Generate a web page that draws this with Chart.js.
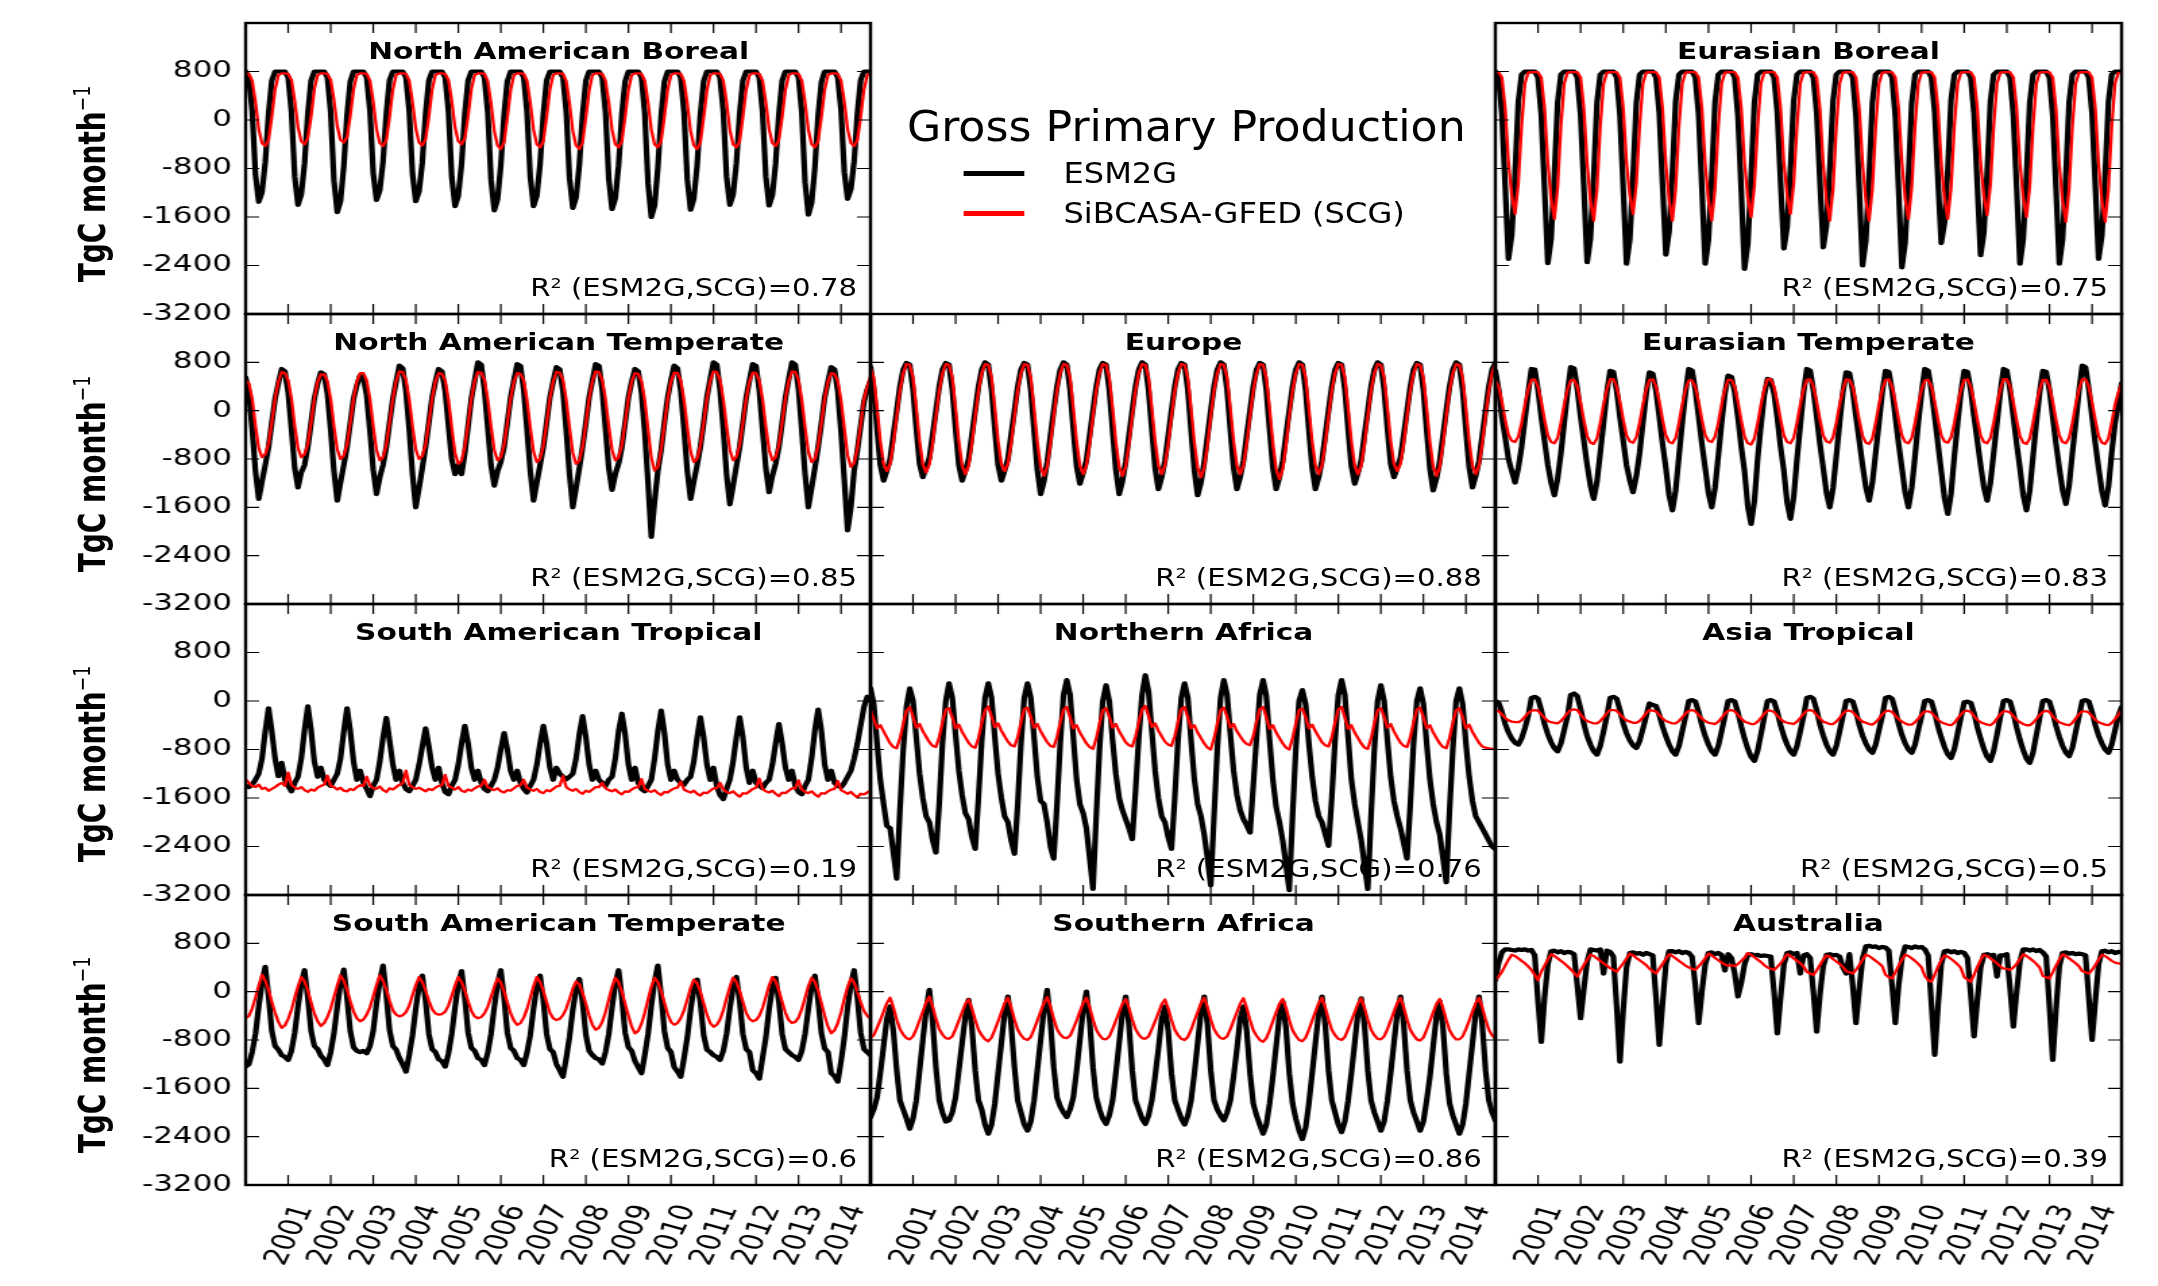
<!DOCTYPE html>
<html>
<head>
<meta charset="utf-8">
<script src="https://cdn.jsdelivr.net/npm/chart.js@4/dist/chart.umd.min.js"></script>
<style>
html,body{margin:0;padding:0;background:#fff;overflow:hidden;width:2158px;height:1286px;}
#stage{position:absolute;left:0;top:0;width:1599px;height:1286px;transform-origin:0 0;font-family:'DejaVu Sans',sans-serif;color:#000;}
.txt{position:absolute;white-space:nowrap;line-height:1;z-index:1;}
.sup{font-size:0.6em;vertical-align:0.6em;}
.supy{font-size:0.62em;vertical-align:0.65em;font-weight:normal;}
</style>
</head>
<body>
<div id="stage"></div>
<script>
// ---------- tick labels / categories ----------
const yearTickPos = [13,26,39,52,65,78,91,104,117,130,143,156,169,182];
const yearLabels = ['2001','2002','2003','2004','2005','2006','2007','2008','2009','2010','2011','2012','2013','2014'];
const yTickValues = [-3200,-2400,-1600,-800,0,800];
const regionNames = ['North American Boreal','Eurasian Boreal','North American Temperate','Europe','Eurasian Temperate','South American Tropical','Northern Africa','Asia Tropical','South American Temperate','Southern Africa','Australia'];
const r2Values = ['0.78','0.75','0.85','0.88','0.83','0.19','0.76','0.5','0.6','0.86','0.39'];
const seriesNames = ['ESM2G','SiBCASA-GFED (SCG)'];

// ---------- monthly values, TgC month-1 (192 months each) ----------
const nabESM = [
800,700,150,-900,-1350,-1190,-700,100,650,800,800,800,
800,700,140,-930,-1400,-1230,-720,100,650,800,800,800,
800,700,120,-1000,-1520,-1340,-760,80,640,800,800,800,
800,700,160,-880,-1320,-1160,-690,110,660,800,800,800,
800,700,150,-890,-1340,-1180,-700,100,650,800,800,800,
800,700,140,-940,-1420,-1250,-730,100,650,800,800,800,
800,700,130,-980,-1490,-1310,-750,90,640,800,800,800,
800,700,140,-940,-1420,-1250,-730,100,650,800,800,800,
800,700,140,-960,-1450,-1280,-740,90,650,800,800,800,
800,700,130,-970,-1470,-1290,-750,90,640,800,800,800,
800,700,110,-1050,-1600,-1410,-790,70,630,800,800,800,
800,700,130,-980,-1480,-1300,-750,90,640,800,800,800,
800,700,140,-930,-1400,-1230,-720,100,650,800,800,800,
800,700,140,-930,-1410,-1240,-720,100,650,800,800,800,
800,700,120,-1030,-1560,-1370,-780,80,630,800,800,800,
800,700,160,-860,-1300,-1140,-680,110,660,800,800,800];
const nabSCG = [
770,760,650,300,-150,-380,-430,-330,50,500,740,770,
770,760,660,320,-120,-350,-400,-300,60,510,740,770,
770,760,660,330,-100,-330,-370,-280,70,510,740,770,
770,760,650,300,-150,-380,-430,-330,50,500,740,770,
770,760,650,300,-140,-370,-420,-320,50,500,740,770,
770,760,660,320,-120,-350,-400,-300,60,510,740,770,
770,760,640,280,-180,-420,-480,-370,40,490,740,770,
770,760,650,290,-160,-400,-450,-350,50,500,740,770,
770,760,640,280,-180,-420,-480,-370,40,490,740,770,
770,760,650,290,-160,-400,-450,-350,50,500,740,770,
770,760,650,290,-160,-400,-450,-350,50,500,740,770,
770,760,640,280,-180,-420,-480,-370,40,490,740,770,
770,760,650,290,-160,-400,-450,-350,50,500,740,770,
770,760,650,300,-150,-380,-430,-330,50,500,740,770,
770,760,650,290,-160,-400,-450,-350,50,500,740,770,
770,760,650,300,-150,-380,-430,-330,50,500,740,770];
const ebESM = [
800,700,100,-1100,-2290,-1900,-900,300,750,800,800,800,
800,700,80,-1130,-2360,-1960,-920,290,750,800,800,800,
800,700,80,-1120,-2345,-1950,-920,290,750,800,800,800,
800,700,80,-1130,-2370,-1970,-930,290,750,800,800,800,
800,700,110,-1070,-2220,-1840,-870,310,750,800,800,800,
800,700,80,-1130,-2370,-1970,-930,290,750,800,800,800,
800,700,60,-1170,-2455,-2040,-960,280,750,800,800,800,
800,700,120,-1020,-2120,-1760,-830,320,750,800,800,800,
800,700,120,-1010,-2100,-1740,-820,320,750,800,800,800,
800,700,70,-1150,-2400,-1990,-940,290,750,800,800,800,
800,700,60,-1160,-2430,-2020,-950,280,750,800,800,800,
800,700,130,-980,-2030,-1690,-800,330,750,800,800,800,
800,700,100,-1070,-2230,-1850,-870,310,750,800,800,800,
800,700,80,-1130,-2370,-1970,-930,290,750,800,800,800,
800,700,80,-1130,-2370,-1970,-930,290,750,800,800,800,
800,700,100,-1100,-2290,-1900,-900,300,750,800,800,800];
const ebSCG = [
790,790,700,200,-700,-1240,-1550,-1050,-100,600,780,790,
790,790,700,200,-700,-1300,-1630,-1110,-100,600,780,790,
790,790,700,190,-720,-1330,-1660,-1130,-110,600,780,790,
790,790,700,200,-700,-1240,-1550,-1050,-100,600,780,790,
790,790,700,190,-720,-1330,-1660,-1130,-110,600,780,790,
790,790,700,190,-720,-1330,-1660,-1130,-110,600,780,790,
790,790,700,200,-710,-1280,-1600,-1090,-100,600,780,790,
790,790,700,200,-700,-1240,-1550,-1050,-100,600,780,790,
790,790,700,190,-720,-1330,-1660,-1130,-110,600,780,790,
790,790,700,190,-720,-1330,-1660,-1130,-110,600,780,790,
790,790,700,200,-700,-1300,-1630,-1110,-100,600,780,790,
790,790,700,200,-700,-1300,-1630,-1110,-100,600,780,790,
790,790,700,200,-700,-1260,-1570,-1070,-100,600,780,790,
790,790,700,200,-710,-1280,-1600,-1090,-100,600,780,790,
790,790,700,190,-730,-1340,-1680,-1140,-110,600,780,790,
790,790,700,190,-730,-1340,-1680,-1140,-110,600,780,790];
const natESM = [
550,300,-300,-1000,-1460,-1170,-900,-600,-200,200,450,690,
650,300,-300,-950,-1270,-1020,-900,-600,-200,200,450,635,
600,280,-320,-1000,-1490,-1190,-900,-600,-200,200,420,580,
540,250,-330,-980,-1380,-1100,-900,-600,-200,200,480,745,
700,320,-300,-1050,-1600,-1280,-950,-600,-200,220,480,690,
650,320,-250,-800,-1050,-900,-1050,-700,-250,200,500,800,
760,350,-280,-900,-1240,-1000,-850,-600,-200,220,500,770,
740,340,-300,-1000,-1490,-1190,-900,-600,-200,220,480,720,
680,320,-320,-1050,-1600,-1280,-950,-600,-200,220,500,770,
740,340,-300,-950,-1310,-1050,-880,-600,-200,220,480,690,
650,300,-350,-1200,-2090,-1500,-1000,-650,-200,220,500,745,
700,330,-300,-1000,-1460,-1170,-900,-600,-200,220,520,800,
760,350,-300,-1050,-1550,-1240,-920,-600,-200,220,500,770,
740,340,-300,-950,-1350,-1080,-880,-600,-200,220,520,800,
760,350,-320,-1050,-1600,-1280,-950,-600,-200,220,480,720,
680,320,-350,-1150,-1980,-1600,-1000,-650,-250,150,350,500];
const natSCG = [
500,450,200,-250,-620,-770,-720,-550,-200,200,480,640,
620,500,200,-250,-620,-770,-720,-550,-200,200,480,600,
600,490,190,-260,-640,-800,-750,-560,-200,200,480,620,
620,500,190,-260,-650,-820,-770,-570,-200,200,490,650,
640,510,190,-260,-640,-800,-750,-560,-200,200,480,620,
610,500,180,-280,-700,-880,-830,-600,-220,200,490,640,
630,510,190,-260,-650,-820,-770,-570,-200,200,480,620,
610,500,180,-270,-680,-850,-800,-580,-210,200,480,640,
630,510,180,-280,-700,-880,-830,-600,-220,200,490,650,
640,510,190,-260,-650,-820,-770,-570,-200,200,480,620,
610,490,170,-300,-780,-990,-930,-650,-240,190,480,630,
620,500,180,-270,-680,-850,-800,-580,-210,200,490,650,
640,510,190,-260,-650,-820,-770,-570,-200,200,480,630,
620,500,190,-260,-650,-820,-770,-570,-200,200,490,650,
640,510,180,-270,-680,-850,-800,-580,-210,200,480,620,
610,490,170,-290,-740,-930,-870,-620,-230,190,400,560];
const euESM = [
720,350,-300,-900,-1160,-990,-800,-400,0,400,680,790,
760,350,-300,-880,-1100,-940,-780,-400,0,400,680,790,
760,350,-300,-900,-1160,-990,-800,-400,0,400,680,800,
760,350,-300,-900,-1160,-990,-800,-400,0,400,680,790,
760,340,-330,-980,-1380,-1170,-850,-420,0,400,680,800,
760,350,-310,-920,-1210,-1030,-820,-400,0,400,680,790,
760,340,-330,-980,-1380,-1170,-850,-420,0,400,680,800,
760,340,-320,-950,-1300,-1100,-830,-410,0,400,680,790,
760,340,-330,-990,-1400,-1190,-860,-420,0,400,680,800,
760,340,-320,-950,-1300,-1100,-830,-410,0,400,680,790,
760,340,-320,-950,-1300,-1100,-830,-410,0,400,680,800,
760,340,-320,-950,-1300,-1100,-830,-410,0,400,680,790,
760,350,-310,-920,-1210,-1030,-820,-400,0,400,680,800,
760,350,-300,-880,-1100,-940,-780,-400,0,400,680,790,
760,340,-320,-960,-1320,-1120,-840,-410,0,400,680,800,
760,340,-320,-940,-1270,-1080,-830,-410,0,400,680,790];
const euSCG = [
700,550,50,-500,-880,-1000,-880,-540,-100,330,620,770,
760,550,50,-500,-890,-1020,-890,-540,-100,330,620,770,
760,550,40,-510,-910,-1050,-910,-550,-100,330,620,770,
760,550,50,-500,-880,-1000,-880,-540,-100,330,620,770,
760,540,40,-520,-930,-1080,-930,-560,-100,330,620,770,
760,550,40,-510,-910,-1050,-910,-550,-100,330,620,770,
760,540,40,-520,-930,-1080,-930,-560,-100,330,620,770,
760,550,40,-510,-910,-1050,-910,-550,-100,330,620,770,
760,540,30,-530,-950,-1100,-950,-570,-100,330,620,770,
760,550,40,-510,-910,-1050,-910,-550,-100,330,620,770,
760,540,30,-540,-970,-1130,-970,-580,-100,330,620,770,
760,550,40,-510,-910,-1050,-910,-550,-100,330,620,770,
760,550,40,-510,-910,-1050,-910,-550,-100,330,620,770,
760,550,50,-500,-880,-1000,-880,-540,-100,330,620,770,
760,540,40,-520,-930,-1080,-930,-560,-100,330,620,770,
760,550,40,-510,-910,-1050,-910,-550,-100,330,620,770];
const eatESM = [
660,350,-100,-450,-800,-1000,-1190,-950,-600,-150,300,690,
680,350,-100,-500,-900,-1190,-1400,-1120,-700,-200,300,720,
700,360,-100,-500,-900,-1240,-1460,-1170,-700,-200,300,660,
640,330,-100,-500,-900,-1150,-1350,-1080,-700,-200,280,635,
610,320,-100,-550,-950,-1400,-1650,-1320,-750,-200,300,690,
660,340,-100,-550,-950,-1360,-1600,-1280,-750,-200,280,580,
560,300,-120,-600,-1000,-1590,-1875,-1500,-800,-250,250,525,
510,280,-120,-600,-1000,-1520,-1790,-1430,-800,-250,300,690,
660,340,-100,-550,-950,-1360,-1600,-1280,-750,-200,300,635,
620,330,-100,-500,-900,-1270,-1490,-1190,-700,-200,300,660,
640,340,-100,-550,-950,-1360,-1600,-1280,-750,-200,300,690,
660,340,-100,-550,-1000,-1450,-1710,-1370,-750,-200,300,660,
640,340,-100,-500,-900,-1270,-1490,-1190,-700,-200,300,690,
660,340,-100,-550,-950,-1400,-1650,-1320,-750,-200,300,660,
640,340,-100,-550,-950,-1310,-1545,-1240,-700,-200,320,745,
720,360,-100,-550,-950,-1330,-1570,-1260,-700,-200,100,450];
const eatSCG = [
500,400,150,-150,-400,-500,-520,-430,-200,100,350,510,
520,400,150,-150,-410,-520,-540,-450,-200,100,350,500,
510,400,140,-160,-420,-530,-550,-460,-200,100,350,520,
520,400,150,-150,-410,-510,-530,-440,-200,100,350,510,
520,400,150,-150,-410,-520,-540,-450,-200,100,350,500,
500,390,150,-150,-400,-500,-520,-430,-200,100,350,510,
510,400,140,-160,-430,-540,-560,-460,-210,100,350,520,
520,400,150,-150,-410,-520,-540,-450,-200,100,350,510,
520,400,150,-150,-410,-510,-530,-440,-200,100,350,520,
510,400,140,-160,-420,-530,-550,-460,-200,100,350,510,
520,400,150,-150,-410,-520,-540,-450,-200,100,350,500,
510,400,150,-150,-410,-510,-530,-440,-200,100,350,510,
520,400,150,-150,-410,-520,-540,-450,-200,100,350,520,
520,400,140,-160,-420,-530,-550,-460,-200,100,350,510,
510,400,150,-150,-410,-520,-540,-450,-200,100,350,520,
520,400,140,-160,-420,-530,-550,-460,-200,100,300,450];
const satESM = [
-1400,-1420,-1380,-1300,-1200,-950,-500,-120,-500,-950,-1240,-1020,
-1300,-1400,-1490,-1350,-1250,-950,-480,-90,-480,-1000,-1250,-1100,
-1300,-1350,-1400,-1300,-1200,-950,-500,-120,-500,-1000,-1300,-1150,
-1350,-1450,-1570,-1400,-1300,-1000,-600,-280,-650,-1050,-1300,-1150,
-1350,-1450,-1490,-1400,-1300,-1050,-750,-450,-750,-1100,-1300,-1100,
-1350,-1500,-1540,-1400,-1300,-1050,-700,-410,-700,-1100,-1300,-1150,
-1350,-1450,-1490,-1400,-1300,-1100,-800,-530,-800,-1150,-1300,-1150,
-1350,-1450,-1510,-1400,-1300,-1050,-700,-410,-700,-1100,-1300,-1100,
-1200,-1250,-1290,-1250,-1200,-950,-550,-250,-600,-1050,-1300,-1150,
-1300,-1350,-1400,-1300,-1250,-950,-500,-210,-550,-1050,-1300,-1100,
-1350,-1450,-1490,-1400,-1300,-950,-500,-160,-520,-1050,-1300,-1150,
-1300,-1350,-1380,-1300,-1250,-1000,-600,-270,-600,-1050,-1300,-1100,
-1400,-1550,-1620,-1450,-1300,-1000,-600,-270,-600,-1100,-1350,-1150,
-1350,-1400,-1440,-1350,-1300,-1050,-700,-380,-700,-1100,-1300,-1150,
-1400,-1500,-1540,-1400,-1300,-950,-480,-140,-500,-1050,-1300,-1150,
-1350,-1400,-1420,-1350,-1250,-1150,-950,-700,-400,-100,70,0];
const satSCG = [
-1290,-1350,-1400,-1420,-1380,-1450,-1430,-1480,-1450,-1420,-1380,-1350,
-1400,-1180,-1380,-1430,-1450,-1420,-1470,-1500,-1460,-1480,-1430,-1400,
-1380,-1230,-1400,-1420,-1460,-1430,-1480,-1490,-1450,-1470,-1420,-1390,
-1400,-1250,-1390,-1440,-1450,-1410,-1470,-1500,-1440,-1460,-1420,-1380,
-1360,-1150,-1380,-1420,-1450,-1430,-1460,-1490,-1450,-1470,-1430,-1400,
-1390,-1220,-1400,-1430,-1460,-1420,-1480,-1500,-1460,-1480,-1440,-1410,
-1400,-1300,-1420,-1450,-1470,-1440,-1490,-1510,-1470,-1480,-1440,-1400,
-1390,-1300,-1430,-1460,-1480,-1450,-1500,-1520,-1470,-1490,-1450,-1410,
-1400,-1240,-1420,-1460,-1480,-1450,-1500,-1530,-1480,-1500,-1460,-1420,
-1420,-1350,-1440,-1470,-1490,-1460,-1510,-1540,-1490,-1500,-1460,-1430,
-1420,-1290,-1450,-1480,-1500,-1470,-1520,-1550,-1500,-1510,-1470,-1440,
-1430,-1330,-1460,-1490,-1510,-1480,-1530,-1560,-1510,-1520,-1480,-1440,
-1440,-1350,-1460,-1500,-1520,-1490,-1540,-1580,-1520,-1530,-1490,-1450,
-1430,-1280,-1450,-1490,-1510,-1480,-1530,-1570,-1510,-1520,-1480,-1440,
-1440,-1310,-1460,-1500,-1520,-1490,-1540,-1580,-1520,-1530,-1490,-1460,
-1450,-1320,-1470,-1500,-1530,-1500,-1550,-1590,-1530,-1540,-1510,-1480];
const nafESM = [
210,-50,-700,-1300,-1700,-2060,-2100,-2500,-2930,-1800,-800,-100,
210,0,-600,-1200,-1600,-1900,-2000,-2300,-2500,-1700,-700,0,
290,50,-550,-1150,-1550,-1850,-1950,-2250,-2440,-1600,-650,50,
290,50,-600,-1200,-1600,-1900,-2000,-2300,-2520,-1700,-700,50,
290,50,-600,-1250,-1650,-1700,-2000,-2400,-2600,-1700,-700,100,
345,100,-600,-1300,-1700,-1850,-2100,-2600,-3100,-1900,-800,0,
260,0,-650,-1200,-1600,-1800,-1950,-2100,-2280,-1500,-600,100,
425,150,-500,-1150,-1600,-1900,-2000,-2250,-2440,-1600,-650,50,
290,50,-650,-1300,-1700,-1900,-2200,-2600,-3040,-1900,-800,50,
345,100,-550,-1150,-1550,-1800,-1950,-2050,-2170,-1400,-600,100,
345,80,-650,-1300,-1750,-2000,-2300,-2700,-3120,-1900,-800,0,
180,-50,-700,-1250,-1650,-1900,-2000,-2200,-2390,-1600,-650,100,
345,100,-600,-1300,-1700,-2000,-2300,-2700,-3100,-1900,-800,0,
260,0,-650,-1250,-1650,-1900,-2100,-2350,-2600,-1700,-700,0,
210,-50,-700,-1300,-1700,-2000,-2200,-2600,-2990,-1800,-800,0,
210,-50,-700,-1250,-1650,-1900,-2000,-2100,-2200,-2300,-2400,-2440];
const nafSCG = [
-150,-300,-450,-400,-500,-600,-700,-760,-780,-620,-380,-160,
-100,-260,-440,-380,-500,-590,-680,-740,-760,-600,-350,-140,
-120,-270,-450,-390,-510,-600,-690,-750,-770,-610,-360,-150,
-90,-250,-430,-370,-490,-580,-670,-730,-750,-600,-350,-130,
-110,-260,-440,-380,-500,-590,-680,-740,-760,-600,-350,-140,
-100,-270,-450,-400,-520,-610,-700,-760,-790,-620,-370,-150,
-120,-260,-440,-380,-500,-590,-680,-730,-750,-590,-350,-140,
-80,-250,-430,-370,-490,-580,-670,-720,-740,-580,-340,-130,
-100,-270,-450,-400,-520,-610,-700,-770,-800,-620,-370,-150,
-110,-260,-440,-380,-500,-580,-660,-710,-730,-580,-340,-130,
-100,-270,-460,-400,-520,-610,-700,-770,-800,-620,-370,-150,
-130,-270,-450,-390,-500,-590,-680,-730,-750,-600,-350,-140,
-100,-270,-460,-400,-520,-610,-700,-770,-790,-620,-370,-150,
-120,-260,-440,-380,-500,-600,-690,-740,-760,-600,-350,-140,
-110,-270,-450,-400,-520,-610,-700,-760,-780,-610,-360,-150,
-120,-270,-450,-390,-510,-600,-690,-750,-770,-780,-790,-800];
const atESM = [
0,-30,-180,-380,-520,-620,-690,-720,-620,-450,-250,50,
70,40,-150,-380,-550,-680,-780,-830,-700,-480,-250,100,
125,80,-130,-380,-580,-720,-830,-885,-740,-500,-250,50,
70,40,-150,-370,-530,-650,-730,-775,-660,-460,-250,-40,
-65,-80,-230,-420,-580,-720,-830,-885,-740,-500,-260,0,
15,-10,-180,-400,-580,-720,-830,-885,-740,-500,-250,0,
15,-10,-190,-420,-620,-790,-920,-990,-820,-550,-270,0,
15,-10,-180,-400,-580,-720,-830,-885,-740,-500,-250,50,
70,40,-150,-390,-570,-720,-830,-885,-740,-500,-250,0,
15,-10,-180,-400,-570,-700,-800,-855,-720,-480,-250,50,
70,40,-150,-380,-560,-700,-800,-855,-720,-480,-250,0,
15,-10,-190,-420,-600,-760,-880,-940,-790,-530,-270,-20,
-10,-30,-200,-430,-620,-790,-920,-990,-820,-550,-270,0,
15,-10,-200,-440,-640,-810,-950,-1020,-850,-560,-280,0,
15,-10,-190,-410,-590,-740,-850,-910,-770,-510,-260,0,
15,-10,-180,-400,-570,-700,-800,-855,-720,-480,-250,-100];
const atSCG = [
-150,-170,-220,-280,-320,-340,-350,-350,-320,-260,-200,-160,
-150,-160,-220,-280,-330,-350,-360,-370,-330,-270,-200,-150,
-140,-150,-220,-290,-330,-350,-370,-370,-330,-270,-200,-150,
-150,-160,-220,-280,-320,-340,-360,-360,-330,-270,-200,-150,
-160,-170,-230,-290,-330,-350,-370,-370,-330,-270,-210,-160,
-150,-170,-230,-290,-330,-360,-370,-380,-340,-280,-210,-160,
-150,-170,-230,-290,-340,-360,-380,-380,-340,-280,-210,-160,
-160,-180,-240,-300,-340,-360,-370,-380,-340,-280,-210,-160,
-150,-170,-230,-290,-340,-360,-380,-380,-340,-280,-210,-160,
-160,-180,-240,-300,-340,-360,-380,-390,-350,-290,-220,-170,
-160,-180,-240,-300,-340,-370,-390,-390,-350,-290,-220,-170,
-170,-190,-250,-310,-350,-370,-390,-400,-360,-290,-220,-170,
-160,-180,-250,-310,-350,-370,-390,-400,-360,-290,-220,-170,
-170,-190,-250,-310,-350,-380,-400,-400,-360,-300,-230,-180,
-160,-180,-250,-310,-350,-370,-390,-400,-360,-290,-220,-170,
-170,-190,-250,-310,-350,-370,-390,-400,-360,-300,-230,-150];
const samESM = [
-1240,-1200,-1000,-700,-250,150,410,-80,-650,-900,-960,-1050,
-1080,-1130,-980,-680,-250,130,355,-100,-650,-900,-950,-1060,
-1120,-1215,-1000,-690,-250,140,365,-100,-660,-920,-980,-1000,
-980,-1020,-900,-650,-200,170,430,-60,-640,-900,-960,-1100,
-1200,-1325,-1050,-720,-280,80,265,-150,-700,-950,-1000,-1120,
-1150,-1240,-1020,-700,-260,120,340,-100,-680,-930,-980,-1100,
-1130,-1215,-1010,-700,-260,130,355,-100,-680,-930,-980,-1100,
-1130,-1215,-1010,-720,-280,80,265,-150,-700,-950,-1000,-1200,
-1300,-1410,-1100,-750,-300,40,210,-180,-720,-980,-1050,-1100,
-1120,-1190,-1000,-700,-260,130,355,-100,-680,-920,-980,-1150,
-1250,-1350,-1050,-700,-230,170,430,-60,-650,-930,-1000,-1250,
-1320,-1410,-1100,-760,-300,40,200,-180,-720,-960,-1000,-1050,
-1080,-1130,-980,-700,-280,70,245,-160,-700,-950,-1000,-1300,
-1350,-1440,-1100,-760,-290,60,230,-170,-700,-950,-1000,-1050,
-1080,-1130,-980,-700,-280,80,265,-150,-690,-940,-1000,-1350,
-1400,-1490,-1150,-760,-260,120,355,-100,-680,-950,-1000,-1050];
const samSCG = [
-440,-400,-280,-100,100,280,180,30,-170,-350,-500,-600,
-560,-450,-300,-100,90,240,170,20,-180,-360,-490,-570,
-520,-420,-280,-90,100,270,180,30,-160,-330,-440,-490,
-460,-380,-260,-80,110,270,180,30,-150,-310,-380,-410,
-390,-340,-230,-60,110,240,160,20,-150,-290,-360,-380,
-370,-330,-230,-70,100,240,160,20,-160,-320,-410,-440,
-420,-360,-250,-90,80,220,150,0,-180,-360,-480,-550,
-520,-430,-290,-100,90,240,160,10,-170,-350,-440,-470,
-450,-390,-280,-120,50,170,120,-20,-200,-400,-550,-630,
-600,-500,-340,-130,80,230,150,0,-200,-400,-580,-690,
-650,-530,-350,-130,80,230,160,10,-180,-370,-500,-550,
-520,-440,-310,-130,60,200,140,0,-190,-380,-520,-580,
-550,-460,-310,-110,80,230,160,10,-170,-350,-450,-490,
-470,-400,-270,-90,100,240,170,20,-170,-350,-470,-520,
-500,-430,-290,-100,90,230,160,10,-190,-400,-580,-690,
-640,-520,-340,-120,80,220,150,0,-170,-320,-400,-450];
const safESM = [
-2075,-1950,-1750,-1350,-900,-450,-245,-650,-1300,-1800,-1950,-2100,
-2270,-2100,-1800,-1300,-800,-300,30,-500,-1250,-1800,-2000,-2150,
-2130,-2000,-1750,-1300,-850,-400,-135,-600,-1300,-1800,-1950,-2200,
-2350,-2200,-1850,-1350,-850,-350,-80,-550,-1250,-1800,-2000,-2200,
-2300,-2150,-1800,-1300,-800,-300,30,-500,-1250,-1750,-1900,-2000,
-2075,-1950,-1750,-1300,-800,-300,0,-500,-1250,-1750,-1950,-2100,
-2190,-2050,-1800,-1350,-850,-350,-80,-550,-1300,-1800,-1950,-2100,
-2190,-2050,-1800,-1400,-950,-450,-245,-650,-1350,-1800,-1950,-2100,
-2200,-2050,-1800,-1350,-850,-350,-80,-550,-1300,-1800,-1950,-2050,
-2130,-2000,-1800,-1400,-950,-450,-245,-650,-1350,-1850,-2050,-2200,
-2350,-2200,-1850,-1400,-900,-400,-165,-600,-1350,-1850,-2100,-2300,
-2440,-2250,-1850,-1350,-850,-350,-80,-550,-1300,-1800,-2000,-2200,
-2325,-2150,-1800,-1350,-850,-350,-110,-550,-1300,-1800,-2000,-2150,
-2300,-2150,-1800,-1350,-850,-350,-80,-550,-1300,-1800,-2000,-2150,
-2300,-2150,-1800,-1400,-900,-400,-165,-600,-1350,-1850,-2050,-2200,
-2350,-2200,-1850,-1350,-850,-350,-80,-550,-1300,-1800,-2000,-2130];
const safSCG = [
-760,-720,-600,-470,-330,-190,-100,-260,-460,-620,-710,-770,
-790,-740,-620,-480,-330,-180,-80,-250,-450,-620,-710,-770,
-780,-740,-620,-480,-340,-200,-130,-280,-470,-630,-720,-790,
-820,-760,-630,-490,-340,-190,-100,-260,-460,-630,-720,-780,
-800,-750,-620,-480,-330,-190,-90,-250,-450,-620,-710,-760,
-770,-730,-610,-480,-330,-190,-100,-260,-460,-630,-720,-780,
-790,-740,-620,-480,-340,-200,-120,-270,-460,-620,-710,-770,
-780,-740,-620,-490,-350,-210,-130,-280,-470,-630,-720,-780,
-800,-750,-630,-480,-340,-190,-100,-260,-460,-620,-710,-770,
-780,-740,-620,-480,-340,-200,-110,-270,-470,-640,-730,-800,
-830,-770,-640,-490,-340,-200,-120,-270,-470,-640,-730,-800,
-820,-760,-630,-480,-330,-190,-100,-260,-460,-630,-720,-780,
-800,-750,-620,-480,-340,-200,-110,-270,-460,-630,-720,-780,
-790,-740,-620,-480,-330,-190,-100,-260,-460,-630,-720,-790,
-810,-760,-630,-490,-340,-200,-120,-270,-470,-640,-730,-790,
-790,-740,-620,-480,-330,-190,-100,-260,-460,-630,-720,-780];
const ausESM = [
190,480,650,700,700,690,680,700,690,700,680,690,
600,-150,-830,-100,450,670,680,650,670,640,660,650,
620,100,-440,50,500,700,690,680,700,300,680,660,
580,-250,-1160,-300,400,640,650,630,640,610,640,620,
600,-100,-880,-200,450,670,670,650,670,640,660,640,
580,100,-520,0,450,640,650,620,640,610,350,620,
560,300,-80,150,450,610,620,600,610,590,600,590,
580,0,-690,-100,450,640,650,620,640,300,600,620,
560,0,-660,-50,420,610,620,600,610,580,400,300,
620,100,-520,50,550,750,760,740,750,720,740,730,
680,100,-520,100,550,750,740,720,750,730,740,700,
600,-200,-1045,-250,450,670,680,650,670,640,660,640,
560,-50,-740,-150,400,610,620,600,610,250,600,600,
620,50,-580,0,500,700,700,680,700,670,690,650,
580,-250,-1130,-300,420,640,650,630,640,620,630,620,
600,-100,-800,-150,450,670,680,650,670,640,660,650];
const ausSCG = [
190,250,330,430,530,610,590,550,510,470,420,360,
280,190,330,430,530,620,590,550,510,470,420,370,
310,250,350,440,530,610,590,550,510,470,430,390,
360,330,400,470,550,630,600,560,520,480,440,380,
340,300,380,460,540,620,590,550,510,470,430,400,
380,360,420,480,550,630,600,560,520,480,450,430,
440,420,460,510,560,640,610,570,530,490,440,400,
380,360,410,470,540,620,590,550,510,470,420,330,
300,275,350,440,530,600,580,540,500,460,410,340,
320,300,360,440,530,610,590,550,510,470,420,280,
240,220,320,430,530,610,590,550,510,460,400,260,
190,165,280,410,520,600,580,540,500,450,390,240,
200,165,280,410,520,610,590,550,510,470,420,380,
380,360,400,460,540,620,590,550,510,460,400,260,
240,220,320,430,530,620,590,550,510,470,420,340,
320,300,360,440,530,610,590,550,510,480,470,460];

const esmSeries = [nabESM, ebESM, natESM, euESM, eatESM, satESM, nafESM, atESM, samESM, safESM, ausESM];
const scgSeries = [nabSCG, ebSCG, natSCG, euSCG, eatSCG, satSCG, nafSCG, atSCG, samSCG, safSCG, ausSCG];

// ---------- layout (not data) ----------
const DESIGN_W = 1599;
const SX = 2158 / DESIGN_W;               // the figure is stretched horizontally
const panelCells = [[0,0],[0,2],[1,0],[1,1],[1,2],[2,0],[2,1],[2,2],[3,0],[3,1],[3,2]];
const colEdges = [245, 871, 1496, 2122].map(v => v / SX);
const rowEdges = [23.4, 313.8, 604.2, 894.6, 1185];
const FONT = "'DejaVu Sans', sans-serif";
const TICK_LEN = 10;

const stage = document.getElementById('stage');
stage.style.transform = 'scaleX(' + SX + ')';

function addText(html, css) {
  const d = document.createElement('div');
  d.className = 'txt';
  d.innerHTML = html;
  Object.assign(d.style, css);
  stage.appendChild(d);
  return d;
}

const frameTicks = {
  id: 'frameTicks',
  afterDraw(chart) {
    const ctx = chart.ctx, a = chart.chartArea;
    const xs = chart.scales.x, ys = chart.scales.y;
    ctx.save();
    ctx.strokeStyle = '#000';
    ctx.lineWidth = 1.2;
    ctx.beginPath();
    xs.ticks.forEach(t => {
      const p = xs.getPixelForValue(t.value);
      ctx.moveTo(p, a.top); ctx.lineTo(p, a.top + TICK_LEN);
      ctx.moveTo(p, a.bottom); ctx.lineTo(p, a.bottom - TICK_LEN);
    });
    ys.ticks.forEach(t => {
      const p = ys.getPixelForValue(t.value);
      ctx.moveTo(a.left, p); ctx.lineTo(a.left + TICK_LEN, p);
      ctx.moveTo(a.right, p); ctx.lineTo(a.right - TICK_LEN, p);
    });
    ctx.stroke();
    ctx.lineWidth = 2.4;
    ctx.strokeRect(a.left, a.top, a.right - a.left, a.bottom - a.top);
    ctx.restore();
  }
};

const monthIndex = nabESM.map((v, i) => i);
function toPoints(arr) { return arr.map((v, i) => ({x: monthIndex[i], y: v})); }

panelCells.forEach((cell, k) => {
  const row = cell[0], col = cell[1];
  const L = Math.round(colEdges[col]), R = Math.round(colEdges[col + 1]);
  const T = Math.round(rowEdges[row]), B = Math.round(rowEdges[row + 1]);
  const pw = R - L, ph = B - T;
  const ML = col === 0 ? 130 : 40, MR = row === 3 ? 70 : 14, MT = 24, MB = row === 3 ? 110 : 24;
  const cv = document.createElement('canvas');
  cv.width = ML + pw + MR; cv.height = MT + ph + MB;
  cv.style.cssText = 'position:absolute;z-index:2;left:' + (L - ML) + 'px;top:' + (T - MT) + 'px;width:' + (ML + pw + MR) + 'px;height:' + (MT + ph + MB) + 'px;';
  stage.appendChild(cv);

  new Chart(cv.getContext('2d'), {
    type: 'line',
    data: {
      datasets: [
        {label: seriesNames[0], data: toPoints(esmSeries[k]), borderColor: '#000000', borderWidth: 4.2, pointRadius: 0, tension: 0, order: 1, borderJoinStyle: 'round', borderCapStyle: 'round'},
        {label: seriesNames[1], data: toPoints(scgSeries[k]), borderColor: '#ff0000', borderWidth: 2.3, pointRadius: 0, tension: 0, order: 0, borderJoinStyle: 'round', borderCapStyle: 'round'}
      ]
    },
    options: {
      responsive: false, animation: false, devicePixelRatio: 1,
      events: [],
      layout: {padding: {left: 0, right: MR, top: MT, bottom: 0}},
      plugins: {legend: {display: false}, tooltip: {enabled: false}, title: {display: false}},
      scales: {
        x: {
          type: 'linear', min: 0, max: 191,
          afterBuildTicks: s => { s.ticks = yearTickPos.map(v => ({value: v})); },
          afterFit: s => { s.height = MB; },
          grid: {display: false, drawTicks: false}, border: {display: false},
          ticks: {display: row === 3, autoSkip: false, minRotation: 70, maxRotation: 70, padding: 16, labelOffset: 12, color: '#000',
                  font: {family: FONT, size: 24.5},
                  callback: v => yearLabels[yearTickPos.indexOf(v)]}
        },
        y: {
          type: 'linear', min: -3200, max: 1600,
          afterBuildTicks: s => { s.ticks = yTickValues.map(v => ({value: v})); },
          afterFit: s => { s.width = ML; },
          grid: {display: false, drawTicks: false}, border: {display: false},
          ticks: {display: col === 0, autoSkip: false, padding: 10, color: '#000',
                  font: {family: FONT, size: 23},
                  callback: v => String(v)}
        }
      }
    },
    plugins: [frameTicks]
  });

  addText(regionNames[k], {left: ((L + R) / 2) + 'px', top: (T + 29) + 'px', transform: 'translate(-50%,-50%) scaleX(0.935)', fontWeight: 'bold', fontSize: '23.5px'});
  addText('R<span class="sup">2</span> (ESM2G,SCG)=' + r2Values[k], {left: (R - 10.4) + 'px', top: (B - 26) + 'px', transform: 'translate(-100%,-50%) scaleX(0.9)', transformOrigin: 'right center', fontSize: '24px'});
});

// y-axis titles, one per row
for (let r = 0; r < 4; r++) {
  const c = (rowEdges[r] + rowEdges[r + 1]) / 2 + 15;
  addText('TgC month<span class="supy">\u22121</span>', {left: '68px', top: c + 'px', transform: 'translate(-50%,-50%) rotate(-90deg)', fontWeight: 'bold', fontSize: '28px'});
}

// legend in the empty top-middle cell
addText('Gross Primary Production', {left: (1185.7 / SX) + 'px', top: '126.6px', transform: 'translate(-50%,-50%) scaleX(0.78)', fontSize: '42px'});
const legendY = [173.4, 213.3];
const legendColors = ['#000000', '#ff0000'];
legendY.forEach((y, i) => {
  const ln = document.createElement('div');
  ln.style.cssText = 'position:absolute;z-index:1;left:' + (963 / SX) + 'px;width:' + (62 / SX) + 'px;top:' + (y - 2.75) + 'px;height:5.5px;background:' + legendColors[i] + ';';
  stage.appendChild(ln);
  addText(seriesNames[i], {left: (1064 / SX) + 'px', top: y + 'px', transform: 'translateY(-50%) scaleX(0.82)', transformOrigin: 'left center', fontSize: '29px'});
});
</script>
</body>
</html>
